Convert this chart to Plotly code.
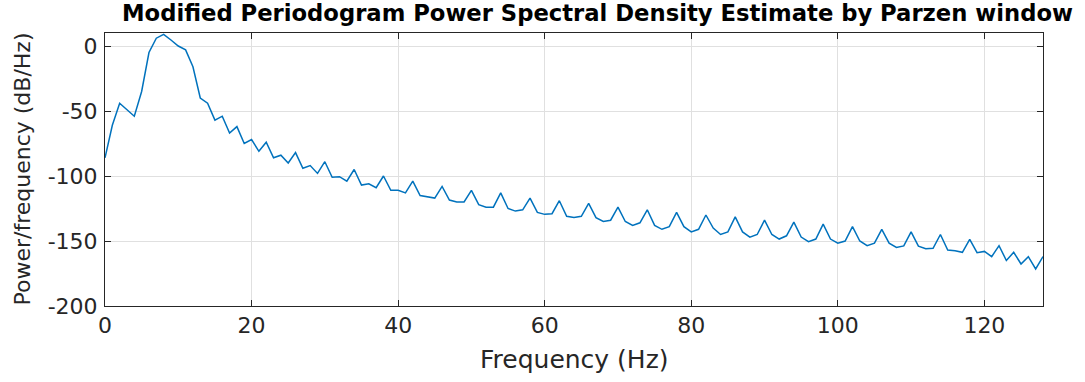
import plotly.graph_objects as go

freq_hz = list(range(0, 129))
psd_db = [
    -86, -61, -44, -49, -54, -35, -5, 6, 9, 4.6,
    0, -3, -16, -40, -44, -57, -54, -67, -62, -75,
    -72, -81, -74, -86, -84, -90, -82, -94, -92, -98,
    -89, -101, -100.5, -104, -95, -107, -106, -109, -100, -111,
    -111, -113, -104, -115, -116, -117, -108, -118.5, -120, -120,
    -111, -122, -124, -124, -113, -125, -127, -126, -117, -128,
    -129.5, -129, -119, -131, -132, -131, -121, -132, -135, -134,
    -124, -135, -138, -136, -126, -138, -141, -139, -128, -139,
    -143, -141, -130, -140, -145, -143, -131.5, -143, -147, -145,
    -134, -145, -148.5, -146, -135.5, -147, -150.5, -148.5, -137, -148.5,
    -151.7, -150, -139, -150, -153.6, -151.7, -141, -151.7, -155, -153.8,
    -143, -154, -156, -155.6, -145, -157, -157.5, -158.7, -148.8, -159,
    -158, -162, -153.6, -165, -158.7, -167.7, -162, -171.5, -162,
]

x_ticks = [0, 20, 40, 60, 80, 100, 120]
x_tick_text = ["0", "20", "40", "60", "80", "100", "120"]
y_ticks = [-200, -150, -100, -50, 0]
y_tick_text = ["-200", "-150", "-100", "-50", "0"]

title_text = "Modified Periodogram Power Spectral Density Estimate by Parzen window"
x_label = "Frequency (Hz)"
y_label = "Power/frequency (dB/Hz)"

FONT = "DejaVu Sans, sans-serif"
DARK = "#262626"

fig = go.Figure()
fig.add_trace(go.Scatter(
    x=freq_hz, y=psd_db, mode="lines",
    line=dict(color="#0072BD", width=1.5),
    hoverinfo="x+y", showlegend=False,
))

axis_common = dict(
    showgrid=True, gridcolor="#e0e0e0", gridwidth=1,
    showline=True, linecolor=DARK, linewidth=1, mirror="allticks",
    ticks="inside", ticklen=6, tickcolor=DARK, tickwidth=1,
    zeroline=False,
    tickfont=dict(family=FONT, size=22, color=DARK),
)

fig.update_layout(
    width=1085, height=382,
    margin=dict(l=105, r=42, t=33, b=76),
    paper_bgcolor="white", plot_bgcolor="white",
    xaxis=dict(range=[0, 128], tickvals=x_ticks, ticktext=x_tick_text, **axis_common),
    yaxis=dict(range=[-200, 10], tickvals=y_ticks, ticktext=y_tick_text,
               ticklabelstandoff=2, **axis_common),
    annotations=[
        dict(text="<b>" + title_text + "</b>", x=0.5 + 23 / 938, y=1, xref="paper", yref="paper",
             xanchor="center", yanchor="middle", yshift=20, showarrow=False,
             font=dict(family=FONT, size=22.7, color="black")),
        dict(text=x_label, x=0.5, y=0, xref="paper", yref="paper",
             xanchor="center", yanchor="middle", yshift=-53, showarrow=False,
             font=dict(family=FONT, size=25, color=DARK)),
        dict(text=y_label, x=0, y=0.5, xref="paper", yref="paper",
             xanchor="center", yanchor="middle", xshift=-83, showarrow=False,
             textangle=-90,
             font=dict(family=FONT, size=22, color=DARK)),
    ],
)

fig.write_html("out.html")
